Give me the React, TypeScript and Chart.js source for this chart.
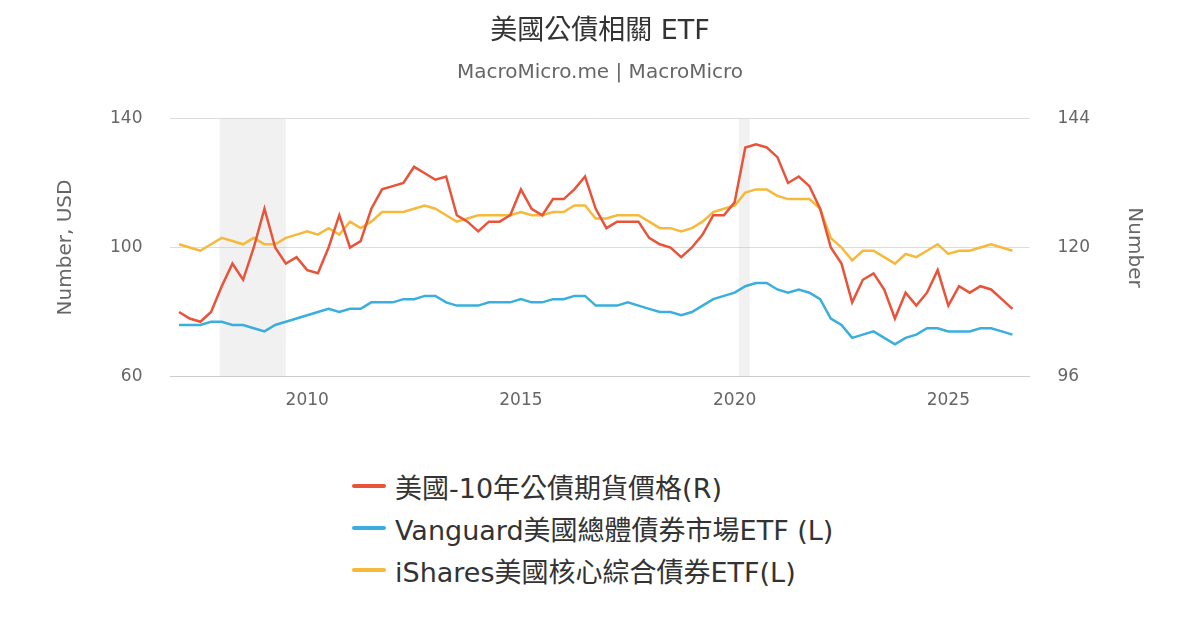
import React, { useEffect, useRef } from "react";
import { Chart, registerables } from "chart.js";
Chart.register(...registerables);

const startYear = 2007;
// quarterly samples (left-axis reading for red; converted to right scale)
const red = [80,78,77,80,88,95,90,100,112,100,95,97,93,92,100,110,100,102,112,118,119,120,125,123,121,122,110,108,105,108,108,110,118,112,110,115,115,118,122,112,106,108,108,108,103,101,100,97,100,104,110,110,114,131,132,131,128,120,122,119,112,100,95,83,90,92,87,78,86,82,86,93,82,88,86,88,87,84,81];
const yellow = [101,100,99,101,103,102,101,103,101,101,103,104,105,104,106,104,108,106,108,111,111,111,112,113,112,110,108,109,110,110,110,110,111,110,110,111,111,113,113,109,109,110,110,110,108,106,106,105,106,108,111,112,113,117,118,118,116,115,115,115,112,103,100,96,99,99,97,95,98,97,99,101,98,99,99,100,101,100,99];
const blue = [76,76,76,77,77,76,76,75,74,76,77,78,79,80,81,80,81,81,83,83,83,84,84,85,85,83,82,82,82,83,83,83,84,83,83,84,84,85,85,82,82,82,83,82,81,80,80,79,80,82,84,85,86,88,89,89,87,86,87,86,84,78,76,72,73,74,72,70,72,73,75,75,74,74,74,75,75,74,73];
const recessions = [[2007.95, 2009.5], [2020.1, 2020.35]];
const xTicks = [2010, 2015, 2020, 2025];
const legendItems = [
  { label: "美國-10年公債期貨價格(R)", color: "#e8533a" },
  { label: "Vanguard美國總體債券市場ETF (L)", color: "#3aaedc" },
  { label: "iShares美國核心綜合債券ETF(L)", color: "#f5b93b" },
];

const pts = (arr: number[], conv?: (v: number) => number) =>
  arr.map((v, i) => ({ x: startYear + i * 0.25, y: conv ? conv(v) : v }));

const FONT = "'DejaVu Sans', 'Noto Sans CJK TC', sans-serif";

export default function App() {
  const ref = useRef<HTMLCanvasElement>(null);
  useEffect(() => {
    const shade = {
      id: "shade",
      beforeDatasetsDraw(c: any) {
        const { ctx, chartArea, scales } = c;
        ctx.save();
        ctx.fillStyle = "rgba(200,200,200,0.25)";
        recessions.forEach(([a, b]) => {
          const x1 = scales.x.getPixelForValue(a), x2 = scales.x.getPixelForValue(b);
          ctx.fillRect(x1, chartArea.top, x2 - x1, chartArea.bottom - chartArea.top);
        });
        ctx.restore();
      },
    };
    const chart = new Chart(ref.current!, {
      type: "line",
      data: {
        datasets: [
          { label: legendItems[0].label, data: pts(red, v => 96 + (v - 60) * 0.6), yAxisID: "y1", borderColor: legendItems[0].color, borderWidth: 2.5, pointRadius: 0, tension: 0 },
          { label: legendItems[1].label, data: pts(blue), yAxisID: "y", borderColor: legendItems[1].color, borderWidth: 2.5, pointRadius: 0, tension: 0 },
          { label: legendItems[2].label, data: pts(yellow), yAxisID: "y", borderColor: legendItems[2].color, borderWidth: 2.5, pointRadius: 0, tension: 0 },
        ],
      },
      options: {
        animation: false,
        responsive: false,
        layout: { padding: { left: 50, right: 50, top: 12 } },
        plugins: {
          legend: { display: false },
          tooltip: { enabled: false },
          title: { display: true, text: "美國公債相關 ETF", color: "#333", font: { family: FONT, size: 27, weight: "normal" }, padding: { top: 4, bottom: 12 } },
          subtitle: { display: true, text: "MacroMicro.me | MacroMicro", color: "#666", font: { family: FONT, size: 20 }, padding: { bottom: 34 } },
        },
        scales: {
          x: {
            type: "linear", min: 2006.8, max: 2026.9,
            afterBuildTicks: (s: any) => { s.ticks = xTicks.map(v => ({ value: v })); },
            ticks: { color: "#666", font: { family: FONT, size: 17 }, callback: (v: any) => String(v), padding: 6 },
            grid: { display: false, drawTicks: true, tickLength: 8 },
            border: { color: "#ccc" },
          },
          y: {
            position: "left", min: 60, max: 140,
            afterBuildTicks: (s: any) => { s.ticks = [60, 100, 140].map(v => ({ value: v })); },
            ticks: { color: "#666", font: { family: FONT, size: 17 }, padding: 28 },
            grid: { color: "#ddd", drawTicks: false },
            border: { display: false },
            title: { display: true, text: "Number, USD", color: "#666", font: { family: FONT, size: 20 } },
          },
          y1: {
            position: "right", min: 96, max: 144,
            afterBuildTicks: (s: any) => { s.ticks = [96, 120, 144].map(v => ({ value: v })); },
            ticks: { color: "#666", font: { family: FONT, size: 17 }, padding: 28 },
            grid: { display: false, drawTicks: false },
            border: { display: false },
            title: { display: true, text: "Number", color: "#666", font: { family: FONT, size: 20 } },
          },
        },
      },
      plugins: [shade],
    });
    return () => chart.destroy();
  }, []);
  return (
    <div style={{ position: "absolute", left: 0, top: 0, width: 1200, height: 630, background: "#fff", fontFamily: FONT }}>
      <canvas ref={ref} width={1200} height={417} />
      <div style={{ position: "absolute", left: 352, top: 465 }}>
        {legendItems.map(it => (
          <div key={it.label} style={{ display: "flex", alignItems: "center", height: 42, fontSize: 27, color: "#333", whiteSpace: "nowrap" }}>
            <span style={{ display: "inline-block", width: 34, height: 4, background: it.color, marginRight: 9, borderRadius: 2 }} />
            {it.label}
          </div>
        ))}
      </div>
    </div>
  );
}
